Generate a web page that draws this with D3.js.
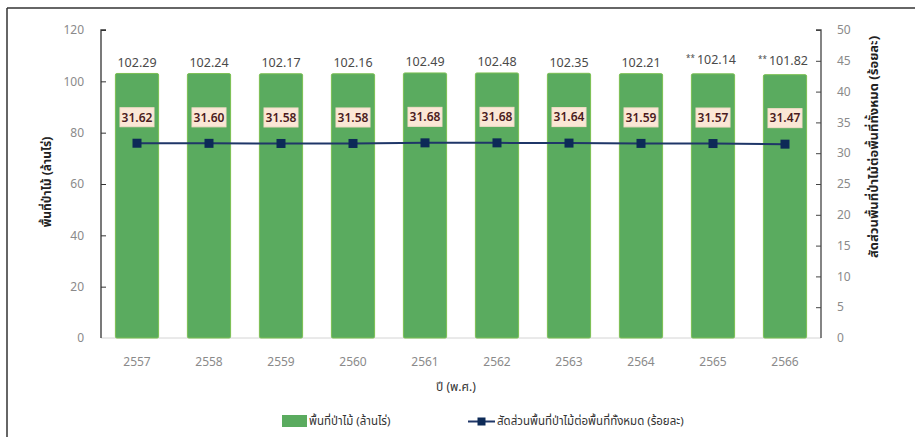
<!DOCTYPE html>
<html>
<head>
<meta charset="utf-8">
<script src="https://cdn.jsdelivr.net/npm/d3@7"></script>
<style>
  html, body { margin: 0; padding: 0; background: #fff; }
  svg { display: block; font-family: "Noto Sans Thai", Tahoma, "DejaVu Sans", sans-serif; }
</style>
</head>
<body>
<svg id="chart" width="915" height="437"></svg>
<script>
const years = ["2557","2558","2559","2560","2561","2562","2563","2564","2565","2566"];
const forestArea = [102.29, 102.24, 102.17, 102.16, 102.49, 102.48, 102.35, 102.21, 102.14, 101.82];
const forestShare = [31.62, 31.60, 31.58, 31.58, 31.68, 31.68, 31.64, 31.59, 31.57, 31.47];
const areaNotes = ["", "", "", "", "", "", "", "", "**", "**"];
const leftTicks = [0, 20, 40, 60, 80, 100, 120];
const rightTicks = [0, 5, 10, 15, 20, 25, 30, 35, 40, 45, 50];
const xTitle = "ปี (พ.ศ.)";
const leftTitle = "พื้นที่ป่าไม้ (ล้านไร่)";
const rightTitle = "สัดส่วนพื้นที่ป่าไม้ต่อพื้นที่ทั้งหมด (ร้อยละ)";
const legendBar = "พื้นที่ป่าไม้ (ล้านไร่)";
const legendLine = "สัดส่วนพื้นที่ป่าไม้ต่อพื้นที่ทั้งหมด (ร้อยละ)";

const svg = d3.select("#chart");
const L = 101, R = 821, T = 30, B = 338;

const x = d3.scaleBand().domain(years).range([L, R]).paddingInner(0.4).paddingOuter(0.2);
const yL = d3.scaleLinear().domain([0, 120]).range([B, T]);
const yR = d3.scaleLinear().domain([0, 50]).range([B, T]);

// frame (top & left)
svg.append("line").attr("x1", 7).attr("x2", 915).attr("y1", 8).attr("y2", 8).attr("stroke", "#333").attr("stroke-width", 1.5);
svg.append("line").attr("x1", 7).attr("x2", 7).attr("y1", 8).attr("y2", 437).attr("stroke", "#333").attr("stroke-width", 1.5);

// x baseline
svg.append("line").attr("x1", L).attr("x2", R).attr("y1", B).attr("y2", B).attr("stroke", "#d4d4d4").attr("stroke-width", 1);

// bars
svg.append("g").selectAll("rect").data(years).join("rect")
  .attr("x", d => x(d))
  .attr("y", (d, i) => yL(forestArea[i]) - 2)
  .attr("width", x.bandwidth())
  .attr("height", (d, i) => B - yL(forestArea[i]) + 2)
  .attr("rx", 1.5)
  .attr("fill", "#5aab5f")
  .attr("stroke", "#7bbf52")
  .attr("stroke-width", 1);

// left axis
const gL = svg.append("g").attr("transform", `translate(${L},0)`)
  .call(d3.axisRight(yL).tickValues(leftTicks).tickSize(5).tickFormat(""));
gL.select(".domain").attr("stroke", "#333").attr("stroke-width", 1.3).attr("d", `M5,${T}H0V${B}`);
gL.selectAll(".tick line").attr("stroke", "#333");
gL.selectAll(".tick").filter(d => d === 0).select("line").remove();
svg.append("g").selectAll("text").data(leftTicks).join("text")
  .attr("x", 84).attr("y", d => yL(d)).attr("dy", "0.35em")
  .attr("text-anchor", "end").attr("font-size", 12).attr("fill", "#8a8a8a")
  .text(d => d);

// right axis
const gR = svg.append("g").attr("transform", `translate(${R},0)`)
  .call(d3.axisLeft(yR).tickValues(rightTicks).tickSize(5).tickFormat(""));
gR.select(".domain").attr("stroke", "#444").attr("stroke-width", 1.3).attr("d", `M-5,${T}H0V${B}`);
gR.selectAll(".tick line").attr("stroke", "#444");
gR.selectAll(".tick").filter(d => d === 0).select("line").remove();
svg.append("g").selectAll("text").data(rightTicks).join("text")
  .attr("x", 837).attr("y", d => yR(d)).attr("dy", "0.35em")
  .attr("text-anchor", "start").attr("font-size", 12).attr("fill", "#8a8a8a")
  .text(d => d);

// x tick labels
svg.append("g").selectAll("text").data(years).join("text")
  .attr("x", d => x(d) + x.bandwidth() / 2).attr("y", 362).attr("dy", "0.35em")
  .attr("text-anchor", "middle").attr("font-size", 12).attr("fill", "#8a8a8a")
  .text(d => d);

// bar value labels
const vl = svg.append("g").selectAll("text").data(years).join("text")
  .attr("x", (d, i) => x(d) + x.bandwidth() / 2 + (areaNotes[i] ? -2 : 0))
  .attr("y", (d, i) => yL(forestArea[i]) - 13).attr("dy", "0.35em")
  .attr("text-anchor", "middle").attr("font-size", 12.5).attr("fill", "#4a4a4a");
vl.each(function(d, i) {
  const t = d3.select(this);
  if (areaNotes[i]) {
    t.append("tspan").attr("font-size", 8).attr("dy", "-0.2em").text(areaNotes[i] + " ");
    t.append("tspan").attr("dy", "0.2em").text(forestArea[i].toFixed(2));
  } else {
    t.text(forestArea[i].toFixed(2));
  }
});

// line
const line = d3.line().x((d, i) => x(years[i]) + x.bandwidth() / 2).y(d => yR(d));
svg.append("path").datum(forestShare).attr("d", line)
  .attr("fill", "none").attr("stroke", "#1f3668").attr("stroke-width", 2);
svg.append("g").selectAll("rect").data(forestShare).join("rect")
  .attr("x", (d, i) => x(years[i]) + x.bandwidth() / 2 - 4.5)
  .attr("y", d => yR(d) - 4.5)
  .attr("width", 9).attr("height", 9)
  .attr("fill", "#0d2a57");

// line value labels
const lg = svg.append("g").selectAll("g").data(forestShare).join("g")
  .attr("transform", (d, i) => `translate(${x(years[i]) + x.bandwidth() / 2},${yR(d) - 26})`);
lg.append("rect").attr("x", -17).attr("y", -9.5).attr("width", 34).attr("height", 19)
  .attr("fill", "#fbe7d6").attr("stroke", "#f3dcc8");
lg.append("text").attr("text-anchor", "middle").attr("dy", "0.36em")
  .attr("font-size", 12).attr("font-weight", 600).attr("fill", "#4a1a20")
  .text(d => d.toFixed(2));

// axis titles
svg.append("text").attr("x", 456).attr("y", 387).attr("dy", "0.35em")
  .attr("text-anchor", "middle").attr("font-size", 12).attr("fill", "#333").text(xTitle);
svg.append("text").attr("transform", "translate(47,182) rotate(-90)")
  .attr("text-anchor", "middle").attr("dy", "0.35em")
  .attr("font-size", 12).attr("font-weight", "bold").attr("fill", "#222").text(leftTitle);
svg.append("text").attr("transform", "translate(873,147) rotate(-90)")
  .attr("text-anchor", "middle").attr("dy", "0.35em")
  .attr("font-size", 13).attr("font-weight", "bold").attr("fill", "#222").text(rightTitle);

// legend
svg.append("rect").attr("x", 282).attr("y", 415).attr("width", 25).attr("height", 12).attr("fill", "#5aab5f");
svg.append("text").attr("x", 309).attr("y", 421).attr("dy", "0.35em")
  .attr("font-size", 11.5).attr("fill", "#333").text(legendBar);
svg.append("line").attr("x1", 468).attr("x2", 495).attr("y1", 421.5).attr("y2", 421.5)
  .attr("stroke", "#1f3668").attr("stroke-width", 2);
svg.append("rect").attr("x", 477.5).attr("y", 417.5).attr("width", 8).attr("height", 8).attr("fill", "#0d2a57");
svg.append("text").attr("x", 497).attr("y", 421).attr("dy", "0.35em")
  .attr("font-size", 11.5).attr("fill", "#333").text(legendLine);
</script>
</body>
</html>
